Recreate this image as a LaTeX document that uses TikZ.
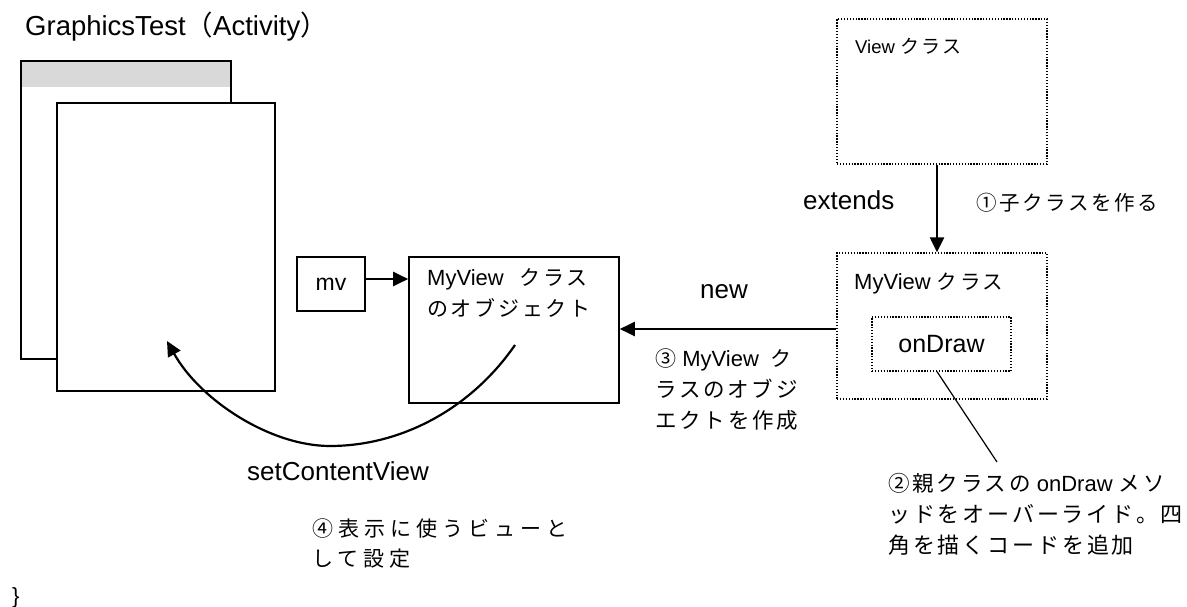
\documentclass[tikz,border=0pt]{standalone}
\usepackage{fontspec}
\setmainfont{Liberation Sans}
\newfontfamily\jpfont[LetterSpace=13]{Noto Sans CJK JP}
\newfontfamily\jpwide[LetterSpace=24]{Noto Sans CJK JP}
\newfontfamily\jpplain{Noto Sans CJK JP}
\usetikzlibrary{arrows.meta}
% Japanese runs, letter-spaced; optional argument = size
\newcommand{\J}[2][21]{{\fontsize{#1}{31}\jpfont\selectfont #2}}
\newcommand{\JW}[2][21]{{\fontsize{#1}{30}\jpwide\selectfont #2}}
\tikzset{
  win/.style={draw, line width=1.6pt, fill=white, inner sep=0pt},
  solidbox/.style={draw, line width=1.6pt, inner sep=0pt},
  dotbox/.style={draw, line width=1.3pt, dash pattern=on 1.3pt off 1.6pt, inner sep=0pt},
  arr/.style={line width=2.2pt, -{Triangle[length=15pt,width=14pt]}},
  txt/.style={inner sep=0pt, anchor=base west, align=left},
}
\begin{document}
\begin{tikzpicture}[x=1pt,y=-1pt]
\useasboundingbox (0,0) rectangle (1187,607);

% title
\node[txt, font=\fontsize{27.5}{31}\selectfont] (title) at (25,36)
  {GraphicsTest{\jpplain （}Activity{\jpplain ）}};

% activity windows
\node[win, minimum width=210pt, minimum height=298pt] (back) at (126,210) {};
\node[fill=black!15, inner sep=0pt, minimum width=208.4pt, minimum height=26pt] (bar) at (126,74.5) {};
\node[solidbox, minimum width=210pt, minimum height=298pt] (backframe) at (126,210) {};
\node[win, minimum width=218pt, minimum height=288pt] (front) at (166,247) {};

% mv reference and object (multi-line texts are placed by their last baseline)
\node[solidbox, minimum width=68pt, minimum height=54pt, font=\fontsize{23}{26}\selectfont] (mv) at (331,284) {mv};
\node[solidbox, minimum width=210pt, minimum height=146pt] (obj) at (514,330) {};
\node[txt, font=\fontsize{22}{31}\selectfont] (objtext) at (427,316)
  {MyView\hspace{16pt}\J{クラス}\\\J{のオブジェクト}};

% classes
\node[dotbox, minimum width=210pt, minimum height=145pt] (view) at (942,91.5) {};
\node[txt, font=\fontsize{18.5}{22}\selectfont] (viewlabel) at (855,54) {View \J[19]{クラス}};
\node[dotbox, minimum width=210pt, minimum height=146pt] (cls) at (942,326) {};
\node[txt, font=\fontsize{22}{26}\selectfont] (clslabel) at (854,289) {MyView \J[20.5]{クラス}};
\node[dotbox, minimum width=139pt, minimum height=54pt, font=\fontsize{25}{30}\selectfont] (ondraw) at (941.5,344) {onDraw};

% connectors
\draw[arr] ([yshift=5pt]mv.east) -- ([yshift=5pt]mv.east -| obj.west);
\draw[arr] ([yshift=-3pt]cls.west) -- ([yshift=-3pt]cls.west -| obj.east);
\draw[arr] ([xshift=-5pt]view.south) -- ([xshift=-5pt]cls.north);
\coordinate (noteend) at (997,462);
\draw[line width=1.2pt] ([xshift=-4.5pt]ondraw.south) -- (noteend);
\coordinate (curvestart) at (515,345);
\coordinate (curvebottom) at (330,446);
\coordinate (curveend) at (167,341);
\draw[arr] (curvestart) .. controls (470,410) and (400,446) .. (curvebottom)
  .. controls (270,446) and (200,400) .. (curveend);

% labels
\node[txt, font=\fontsize{26}{30}\selectfont] (extends) at (803,210) {extends};
\node[txt, font=\fontsize{22}{31}\selectfont] (step1) at (976,211) {\J[20.5]{①子クラスを作る}};
\node[txt, font=\fontsize{26}{30}\selectfont] (new) at (700,298) {new};
\node[txt, font=\fontsize{22}{31}\selectfont] (step3) at (655,428)
  {\J{③} MyView\hspace{12pt}\J{ク}\\\J[21.5]{ラスのオブジ}\\\J[21.5]{エクトを作成}};
\node[txt, font=\fontsize{22}{31}\selectfont] (step2) at (888,553)
  {\J[21.5]{②親クラスの} onDraw \J[21.5]{メソ}\\\J[22]{ッドをオーバーライド。四}\\\J[22]{角を描くコードを追加}};
\node[txt, font=\fontsize{26}{30}\selectfont] (setcv) at (247,480) {setContentView};
\node[txt, font=\fontsize{22}{30}\selectfont] (step4) at (312,566)
  {\JW{④表示に使うビューと}\\\JW{して設定}};
\node[txt, font=\fontsize{22}{26}\selectfont] (brace) at (12,603) {\}};
\end{tikzpicture}
\end{document}
